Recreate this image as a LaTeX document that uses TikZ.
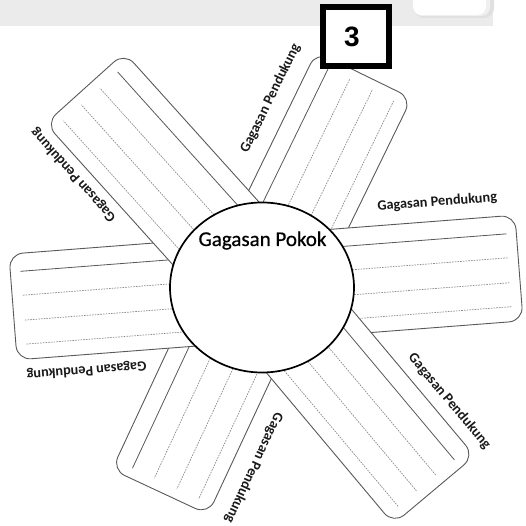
\documentclass[tikz,border=0pt]{standalone}
\usepackage{fontspec}
\usetikzlibrary{shapes.geometric}
\setmainfont{Carlito}
\newfontfamily\boxfont{Liberation Sans}
\newfontfamily\pokokfont[FakeBold=0.6]{Carlito}
\newcommand\drawarm[5]{% x, y, angle, length, sigma
  \begin{scope}[shift={(#1,#2)}, rotate=#3]
    \path[armbox] (-#4,-53) rectangle (0,53);
    \draw[solidline] (-#4,#5*35) -- (-10,#5*35);
    \foreach \s in {11,-14,-38} \draw[dotline] (-#4,#5*\s) -- (-10,#5*\s);
  \end{scope}}
\newcommand\armlabel[5]{% x, y, angle, dist from end, baseline gap
  \begin{scope}[shift={(#1,#2)}, rotate=#3]
    \node[lbl, rotate=#3] at (-#4,53+#5) {Gagasan Pendukung};
  \end{scope}}
\begin{document}
\begin{tikzpicture}[x=1pt,y=1pt,
  armbox/.style={draw=black!65, line width=0.9pt, fill=white, rounded corners=14pt},
  solidline/.style={draw=black!65, line width=0.8pt},
  dotline/.style={draw=black!45, line width=0.7pt, dash pattern=on 1.6pt off 1.1pt},
  lbl/.style={font=\bfseries\fontsize{14.3}{16}\selectfont, text=black!90, inner sep=0pt, anchor=base}]
\useasboundingbox (0,0) rectangle (525,526);
% header band and tab
\fill[black!8] (0,500) rectangle (493,526);
\fill[black!12, rounded corners=10pt] (414,508) rectangle (494,540);
\fill[black!6, rounded corners=9pt] (413,510) rectangle (490,540);
\fill[white, rounded corners=9pt] (413,511) rectangle (486,540);
% arms, bottom layer first
\drawarm{364}{451}{64}{236}{1}
\drawarm{160}{34}{245}{229}{-1}
\drawarm{13}{219}{184.4}{250}{-1}
\drawarm{519}{258}{4.4}{258}{1}
\drawarm{85}{438}{132}{267}{-1}
\drawarm{434}{36}{-50}{266}{1}
% labels
\armlabel{364}{451}{64}{62}{17}
\armlabel{160}{34}{245}{61.5}{18}
\armlabel{13}{219}{184.4}{68.5}{12}
\armlabel{519}{258}{4.4}{76.5}{15}
\armlabel{85}{438}{132}{57}{10}
\armlabel{434}{36}{-50}{58}{12}
% central circle
\node[draw=black, line width=1.7pt, fill=white, ellipse, minimum width=184, minimum height=170, inner sep=0pt] (pokok) at (262,238.5) {};
\node[font=\pokokfont\fontsize{21}{24}\selectfont, anchor=base, inner sep=0pt] (pokoktext) at (262.5,280) {Gagasan Pokok};
% number box
\node[draw=black, line width=6pt, fill=white, minimum width=65.5, minimum height=59, inner sep=0pt] (numbox) at (355.75,489.5) {};
\node[font=\boxfont\bfseries\fontsize{28}{30}\selectfont, inner sep=0pt] (num) at (352,489) {3};
\end{tikzpicture}
\end{document}
